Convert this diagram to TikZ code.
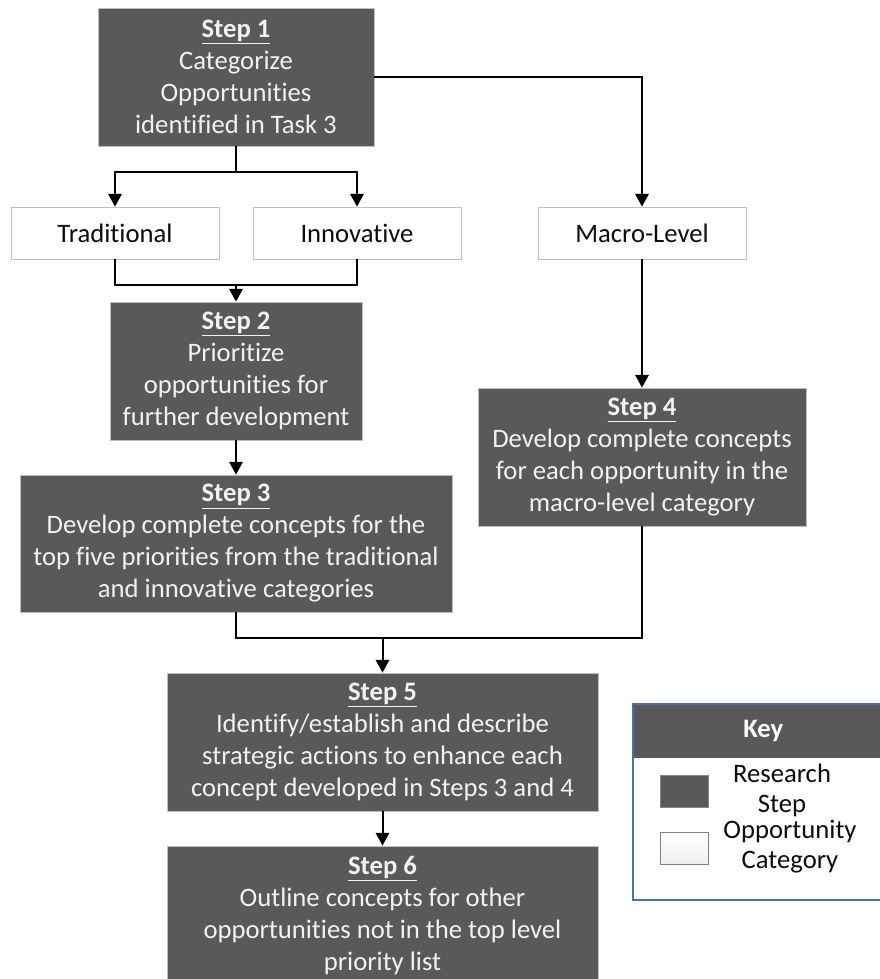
\documentclass[tikz,border=0pt]{standalone}
\usepackage{fontspec}
\setmainfont[Ligatures=NoCommon]{Carlito}
\usetikzlibrary{arrows.meta}
\definecolor{stepfill}{HTML}{595959}
\definecolor{steptext}{HTML}{F2F2F2}
\definecolor{boxline}{HTML}{BFBFBF}
\definecolor{keyblue}{HTML}{4A6FB5}
\definecolor{keytext}{HTML}{0D0D0D}
\tikzset{
  px/.style 2 args={minimum width=#1*0.75pt, minimum height=#2*0.75pt},
  stepbox/.style={draw=boxline, line width=0.6pt, fill=stepfill, text=steptext, align=center, inner sep=0pt,
    font=\fontsize{20}{24}\selectfont},
  catbox/.style={draw=boxline, line width=0.6pt, fill=white, text=keytext, align=center, inner sep=0pt,
    font=\fontsize{20}{24}\selectfont},
  conn/.style={draw=black, line width=1.5pt},
  arr/.style={conn, -{Triangle[length=9.5pt,width=10pt]}},
  keytxt/.style={text=keytext, align=center, inner sep=0pt, font=\fontsize{20}{22.5}\selectfont},
}
\newcommand{\stephead}[1]{\underline{\textbf{#1}}}
\begin{document}
\begin{tikzpicture}[x=0.75pt,y=-0.75pt]
\useasboundingbox[fill=white] (0,0) rectangle (880,979);
% steps
\node[stepbox, px={276}{138}] (s1) at (236,77) {\stephead{Step 1}\\Categorize\\Opportunities\\identified in Task 3};
\node[catbox, px={208}{52}] (trad) at (115,233) {Traditional};
\node[catbox, px={208}{52}] (innov) at (357,233) {Innovative};
\node[catbox, px={208}{52}] (mac) at (642,233) {Macro-Level};
\node[stepbox, px={252}{138}] (s2) at (236,371) {\stephead{Step 2}\\Prioritize\\opportunities for\\further development};
\node[stepbox, px={432}{137}] (s3) at (236,543.5) {\stephead{Step 3}\\Develop complete concepts for the\\top five priorities from the traditional\\and innovative categories};
\node[stepbox, px={328}{138}] (s4) at (642,457) {\stephead{Step 4}\\Develop complete concepts\\for each opportunity in the\\macro-level category};
\node[stepbox, px={431}{138}] (s5) at (382.5,742) {\stephead{Step 5}\\Identify/establish and describe\\strategic actions to enhance each\\concept developed in Steps 3 and 4};
\node[stepbox, px={431}{139}] (s6) at (382.5,915.5) {\stephead{Step 6}\\Outline concepts for other\\opportunities not in the top level\\priority list};
% connectors
\coordinate (j1) at (236,172);
\coordinate (j2) at (236,285);
\coordinate (j3) at (382.5,638);
\draw[conn] (s1.south) -- (j1);
\draw[arr] (j1) -| (trad.north);
\draw[arr] (j1) -| (innov.north);
\draw[conn] (trad.south) |- (j2);
\draw[conn] (innov.south) |- (j2);
\draw[arr] (j2) -- (s2.north);
\draw[arr] (s1.east) -| (mac.north);
\draw[arr] (mac.south) -- (s4.north);
\draw[arr] (s2.south) -- (s3.north);
\draw[conn] (s3.south) |- (j3);
\draw[conn] (s4.south) |- (j3);
\draw[arr] (j3) -- (s5.north);
\draw[arr] (s5.south) -- (s6.north);
% key
\node[draw=keyblue, line width=0.8pt, fill=white, px={260}{196}, inner sep=0pt] (key) at (763,802) {};
\node[fill=stepfill, px={259}{53}, inner sep=0pt, anchor=north west] (keyhead) at (633.5,704.5) {};
\node[text=white, font=\fontsize{20}{24}\selectfont\bfseries, inner sep=0pt] (keylbl) at (keyhead.center) {Key};
\node[draw=boxline!70!black, line width=0.6pt, fill=stepfill, px={48}{32}, inner sep=0pt] (swdark) at (684,791) {};
\node[draw=gray, line width=0.6pt, top color=white, bottom color=gray!12, px={48}{32}, inner sep=0pt] (swlight) at (684,848) {};
\node[keytxt] (ktxt1) at (782,790) {Research\\Step};
\node[keytxt] (ktxt2) at (790,847) {Opportunity\\Category};
\end{tikzpicture}
\end{document}
